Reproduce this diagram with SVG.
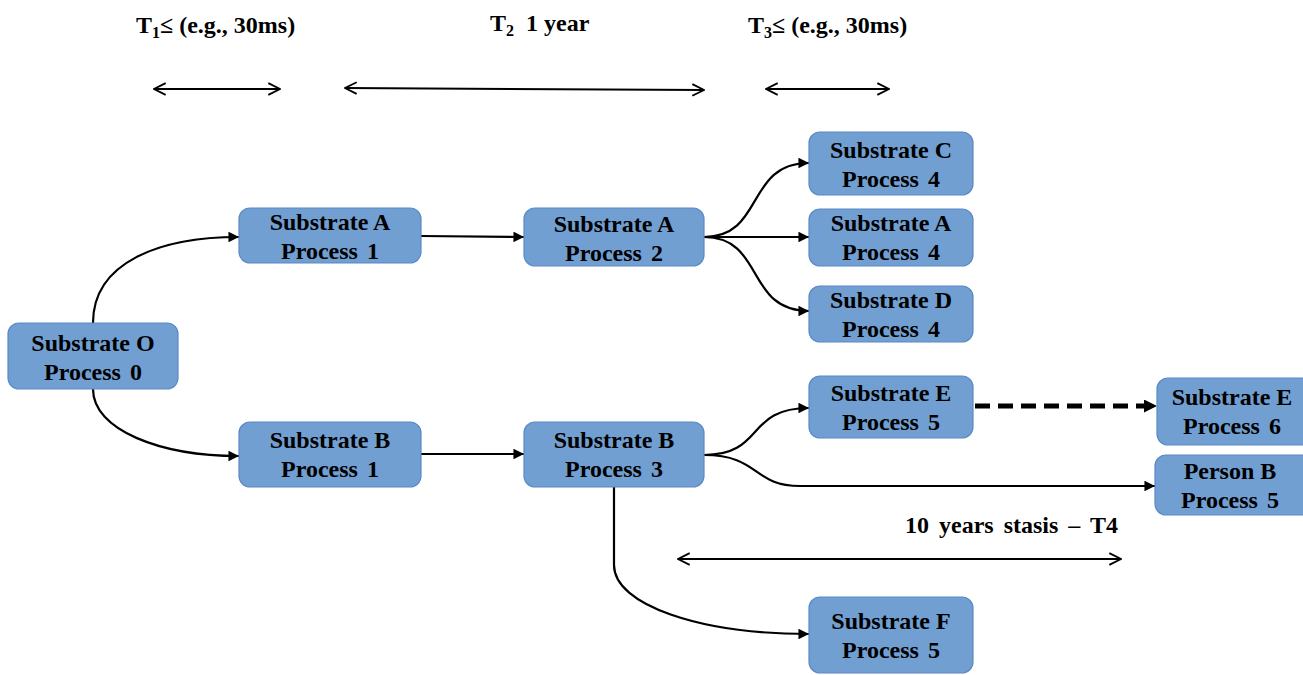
<svg xmlns="http://www.w3.org/2000/svg" width="1303" height="675" viewBox="0 0 1303 675">
  <style>
    .box { fill: #719fd2; stroke: #5a8ac6; stroke-width: 1.2; }
    .lbl { font-family: "Liberation Serif", "Times New Roman", serif; font-weight: bold; font-size: 24px; fill: #000; text-anchor: middle; }
    .hdr { font-family: "Liberation Serif", "Times New Roman", serif; font-weight: bold; font-size: 24px; fill: #000; }
    .sub { font-size: 16px; }
    .edge { fill: none; stroke: #000; stroke-width: 2.2; }
    .dash { fill: none; stroke: #000; stroke-width: 5; stroke-dasharray: 15 8; }
    .span { fill: none; stroke: #000; stroke-width: 2; }
  </style>
  <defs>
    <marker id="tri" viewBox="0 0 10 10" refX="10" refY="5" markerWidth="5.5" markerHeight="4.8" markerUnits="strokeWidth" orient="auto">
      <path d="M0,0 L10,5 L0,10 Z" fill="#000"/>
    </marker>
    <marker id="triBig" viewBox="0 0 10 10" refX="10" refY="5" markerWidth="2.8" markerHeight="2.6" markerUnits="strokeWidth" orient="auto">
      <path d="M0,0 L10,5 L0,10 Z" fill="#000"/>
    </marker>
    <marker id="open" viewBox="0 0 12 12" refX="11" refY="6" markerWidth="7" markerHeight="7" markerUnits="strokeWidth" orient="auto-start-reverse">
      <path d="M1,1 L11,6 L1,11" fill="none" stroke="#000" stroke-width="1.6"/>
    </marker>
  </defs>

  <!-- time span labels and double arrows -->
  <g id="spans">
    <text class="hdr" x="136" y="33">T<tspan class="sub" dy="5">1</tspan><tspan dy="-5">≤ (e.g., 30ms)</tspan></text>
    <text class="hdr" x="490" y="31">T<tspan class="sub" dy="5">2</tspan><tspan dy="-5" xml:space="preserve">  1 year</tspan></text>
    <text class="hdr" x="748" y="33">T<tspan class="sub" dy="5">3</tspan><tspan dy="-5">≤ (e.g., 30ms)</tspan></text>
    <text class="hdr" x="905" y="533" word-spacing="4">10 years stasis – T4</text>
    <path class="span" d="M154,89 L280,89" marker-start="url(#open)" marker-end="url(#open)"/>
    <path class="span" d="M345,88 L704,90" marker-start="url(#open)" marker-end="url(#open)"/>
    <path class="span" d="M766,89 L889,89" marker-start="url(#open)" marker-end="url(#open)"/>
    <path class="span" d="M678,559 L1121,559" marker-start="url(#open)" marker-end="url(#open)"/>
  </g>

  <!-- connectors -->
  <g id="connectors">
    <path class="edge" d="M93,323 C93,262 160,237 239,237" marker-end="url(#tri)"/>
    <path class="edge" d="M93,389 C93,430 160,456 239,456" marker-end="url(#tri)"/>
    <path class="edge" d="M421,236 L524,237" marker-end="url(#tri)"/>
    <path class="edge" d="M421,454 L524,454" marker-end="url(#tri)"/>
    <path class="edge" d="M704,237 C765,237 745,163 809,163" marker-end="url(#tri)"/>
    <path class="edge" d="M704,237 L809,237" marker-end="url(#tri)"/>
    <path class="edge" d="M704,237 C765,237 745,311 809,311" marker-end="url(#tri)"/>
    <path class="edge" d="M704,455 C765,455 745,408 809,408" marker-end="url(#tri)"/>
    <path class="edge" d="M704,455 C760,455 752,486 800,486 L1155,486" marker-end="url(#tri)"/>
    <path class="dash" d="M975,406 L1157,406" marker-end="url(#triBig)"/>
    <path class="edge" d="M614,487 L614,565 C614,605 700,634 809,634" marker-end="url(#tri)"/>
  </g>

  <!-- process nodes -->
  <g id="n-o0"><rect class="box" x="8" y="323" width="170" height="66" rx="11"/><text class="lbl" x="93" y="351">Substrate O</text><text class="lbl" x="93" y="380" word-spacing="3">Process 0</text></g>
  <g id="n-a1"><rect class="box" x="239" y="208" width="182" height="55" rx="11"/><text class="lbl" x="330" y="230">Substrate A</text><text class="lbl" x="330" y="259" word-spacing="3">Process 1</text></g>
  <g id="n-b1"><rect class="box" x="239" y="422" width="182" height="65" rx="11"/><text class="lbl" x="330" y="448">Substrate B</text><text class="lbl" x="330" y="477" word-spacing="3">Process 1</text></g>
  <g id="n-a2"><rect class="box" x="524" y="208" width="180" height="58" rx="11"/><text class="lbl" x="614" y="232">Substrate A</text><text class="lbl" x="614" y="261" word-spacing="3">Process 2</text></g>
  <g id="n-b3"><rect class="box" x="524" y="422" width="180" height="65" rx="11"/><text class="lbl" x="614" y="448">Substrate B</text><text class="lbl" x="614" y="477" word-spacing="3">Process 3</text></g>
  <g id="n-c4"><rect class="box" x="809" y="132" width="164" height="63" rx="11"/><text class="lbl" x="891" y="158">Substrate C</text><text class="lbl" x="891" y="187" word-spacing="3">Process 4</text></g>
  <g id="n-a4"><rect class="box" x="809" y="209" width="164" height="57" rx="11"/><text class="lbl" x="891" y="231">Substrate A</text><text class="lbl" x="891" y="260" word-spacing="3">Process 4</text></g>
  <g id="n-d4"><rect class="box" x="809" y="286" width="164" height="56" rx="11"/><text class="lbl" x="891" y="308">Substrate D</text><text class="lbl" x="891" y="337" word-spacing="3">Process 4</text></g>
  <g id="n-e5"><rect class="box" x="809" y="376" width="164" height="62" rx="11"/><text class="lbl" x="891" y="401">Substrate E</text><text class="lbl" x="891" y="430" word-spacing="3">Process 5</text></g>
  <g id="n-e6"><rect class="box" x="1157" y="378" width="156" height="67" rx="11"/><text class="lbl" x="1232" y="405">Substrate E</text><text class="lbl" x="1232" y="434" word-spacing="3">Process 6</text></g>
  <g id="n-pb5"><rect class="box" x="1155" y="455" width="158" height="60" rx="11"/><text class="lbl" x="1230" y="479">Person B</text><text class="lbl" x="1230" y="508" word-spacing="3">Process 5</text></g>
  <g id="n-f5"><rect class="box" x="809" y="597" width="164" height="76" rx="11"/><text class="lbl" x="891" y="629">Substrate F</text><text class="lbl" x="891" y="658" word-spacing="3">Process 5</text></g>
</svg>
